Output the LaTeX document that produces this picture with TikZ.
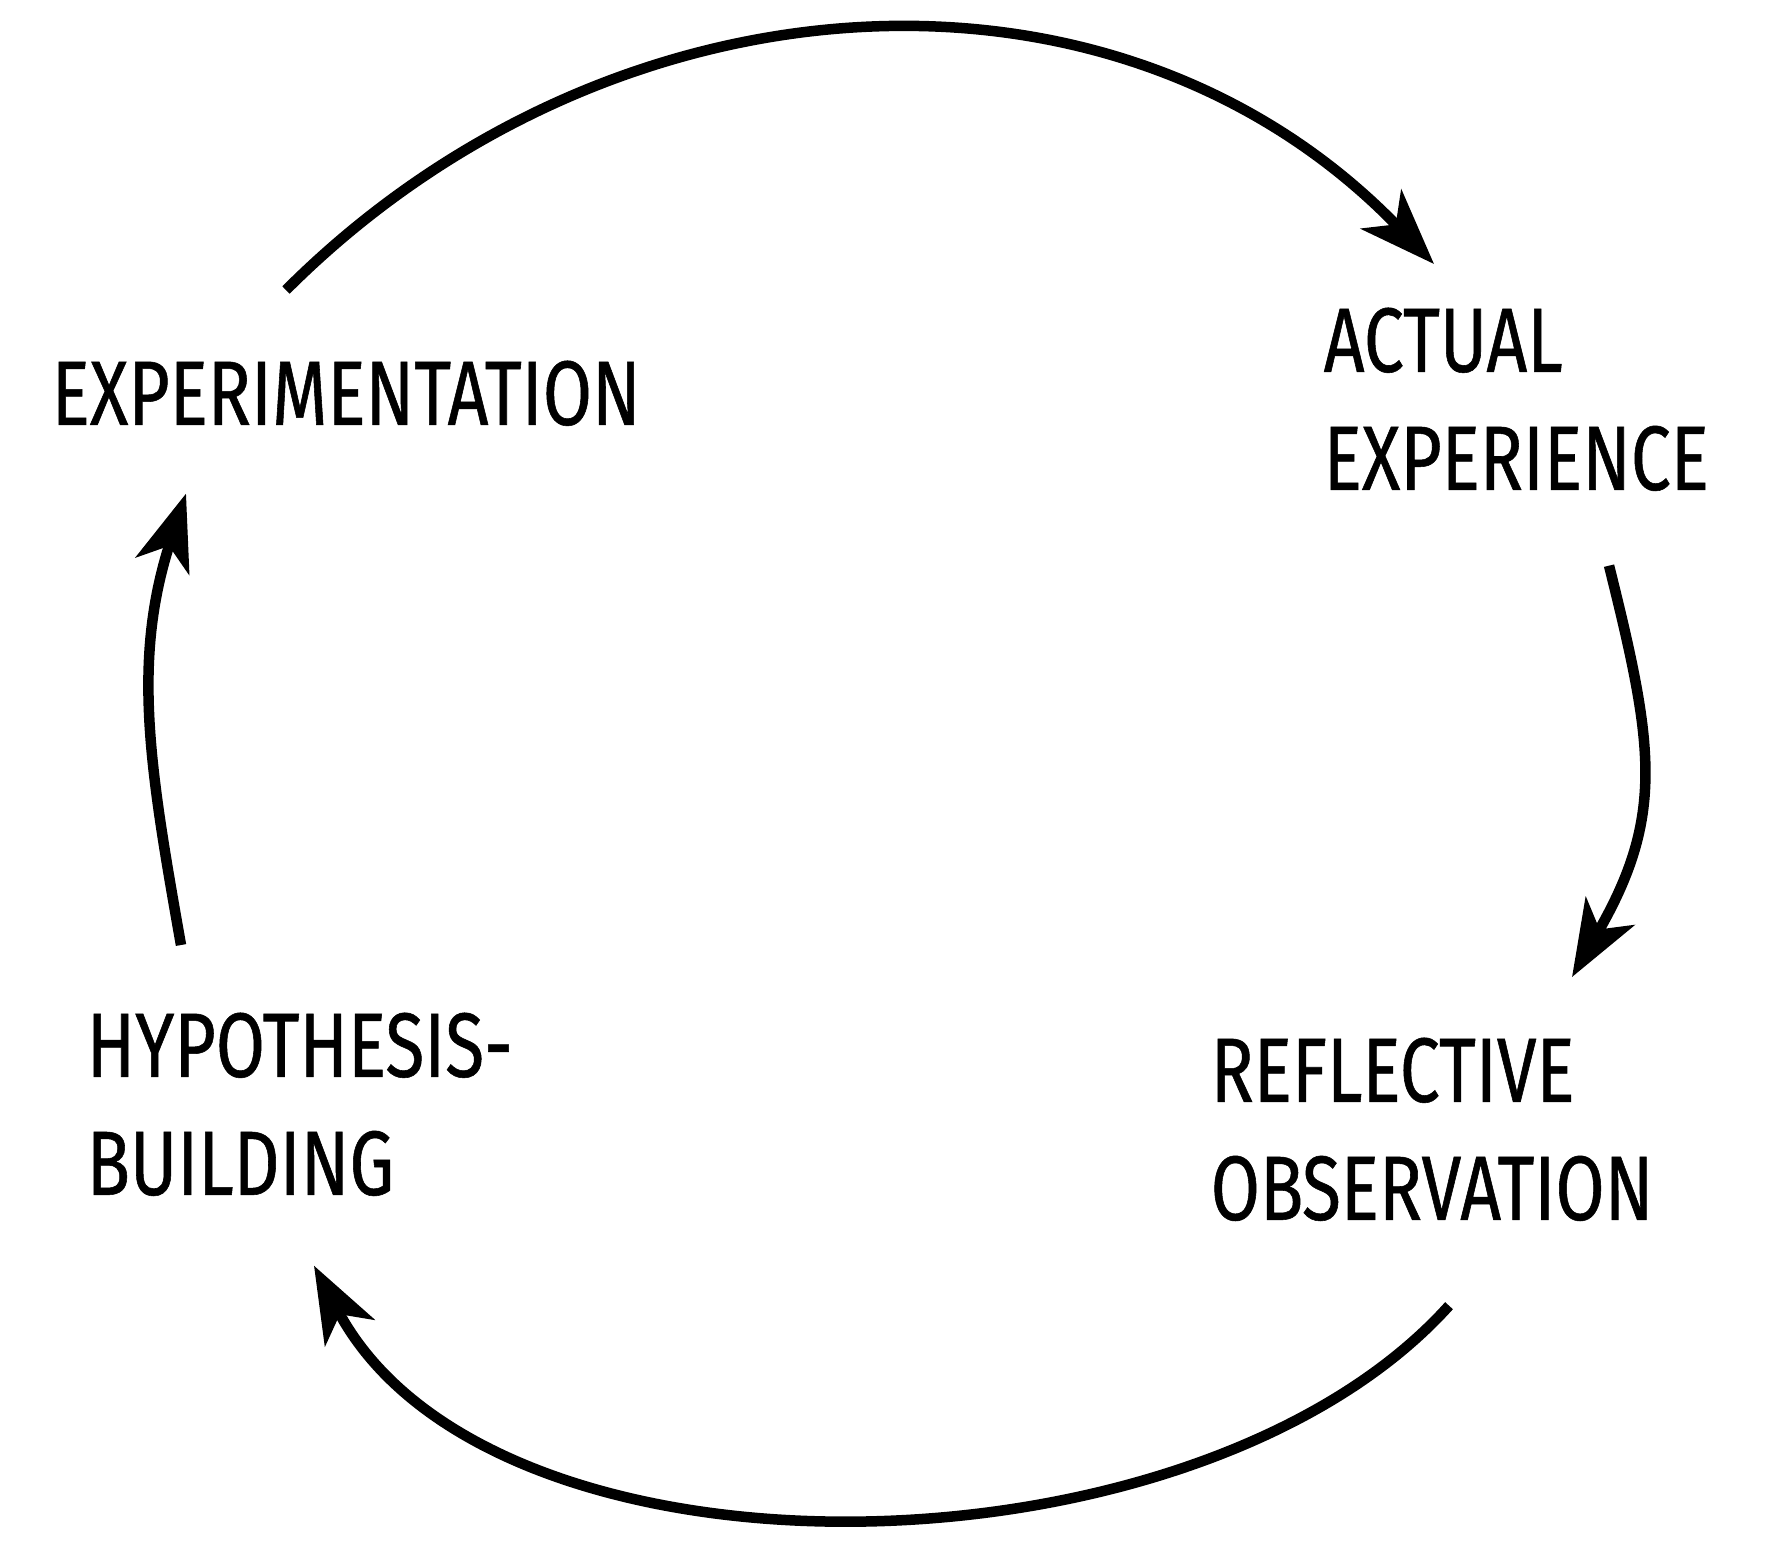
\documentclass[tikz,border=0pt]{standalone}
\usepackage{fontspec}
\usepackage{tikz}
\usetikzlibrary{calc}
\usetikzlibrary{arrows.meta}
\newfontfamily\handfont{Fira Sans}[FakeStretch=0.78, FakeBold=0.6]
\tikzstyle{stage} = [anchor=north west,
inner sep=0pt,
align=left,
font=\handfont\fontsize{26pt}{33.6pt}\selectfont]
\tikzstyle{cycarrow} = [line width=0.105cm,
-{Stealth[length=0.76cm,width=0.56cm,inset=0.21cm]}]
\begin{document}
\begin{tikzpicture}
    \fill [white] (0,0) rectangle (17.88,-15.46);
    \useasboundingbox (0,0) rectangle (17.88,-15.46);

    \node (exp) [stage, xshift=0.51cm, yshift=-3.60cm] {EXPERIMENTATION};
    \node (actual) [stage, xshift=13.23cm, yshift=-3.07cm] {ACTUAL\\EXPERIENCE};
    \node (reflect) [stage, xshift=12.10cm, yshift=-10.37cm] {REFLECTIVE\\OBSERVATION};
    \node (hypo) [stage, xshift=0.86cm, yshift=-10.12cm] {HYPOTHESIS-\\BUILDING};

    % the learning cycle
    \draw [cycarrow] ($(exp.north west)+(2.35,0.70)$) to[out=45, in=134, looseness=1.02] ($(actual.north west)+(1.11,0.43)$);
    \draw [cycarrow] ($(actual.south west)+(2.86,-0.74)$) to[out=-76, in=60, looseness=1.15] ($(reflect.north west)+(3.62,0.60)$);
    \draw [cycarrow] ($(reflect.south west)+(2.39,-0.84)$) to[out=-132, in=-62, looseness=0.85] ($(hypo.south west)+(2.28,-0.69)$);
    \draw [cycarrow] ($(hypo.north west)+(0.95,0.67)$) to[out=100, in=-108, looseness=1.0] ($(exp.south west)+(1.35,-0.67)$);
  \end{tikzpicture}
\end{document}
